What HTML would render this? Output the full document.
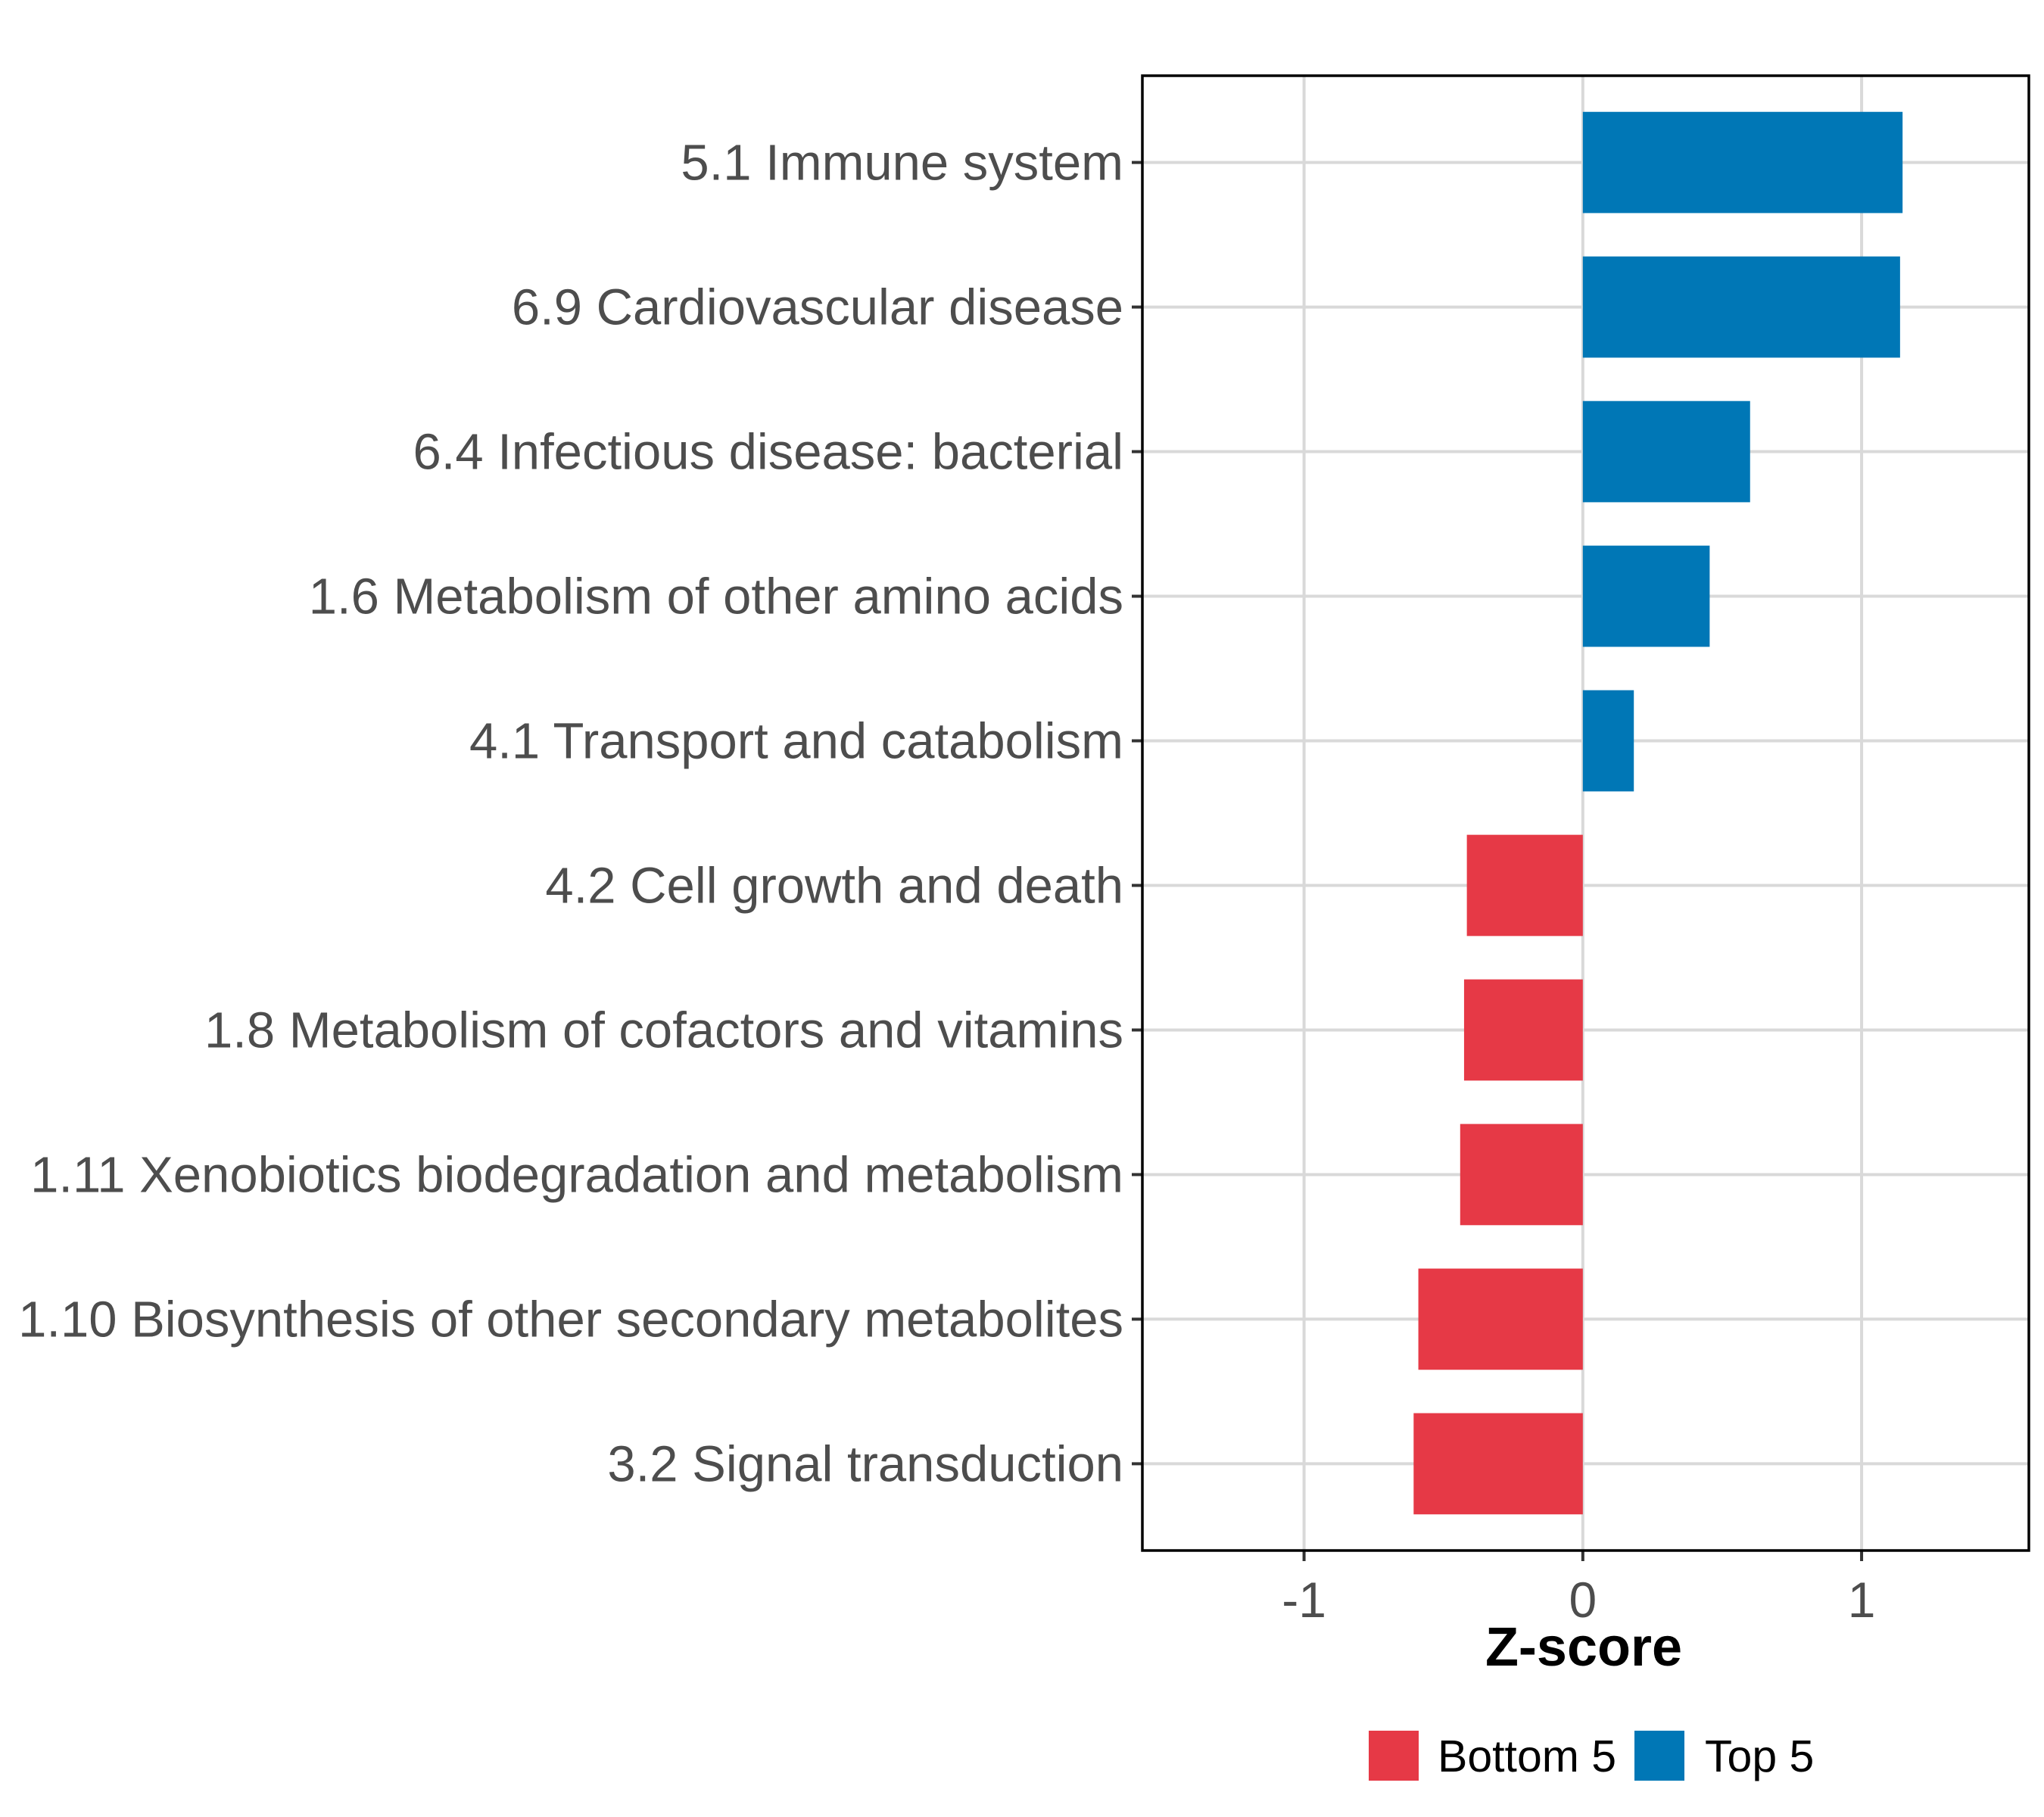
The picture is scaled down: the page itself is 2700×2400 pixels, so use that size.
<!DOCTYPE html>
<html><head><meta charset="utf-8"><style>body{margin:0;background:#fff}svg{display:block}</style></head>
<body>
<svg id="chart" xmlns="http://www.w3.org/2000/svg" width="2700" height="2400" viewBox="0 0 2700 2400" font-family="Liberation Sans, Arial, sans-serif">
<rect width="2700" height="2400" fill="#fff"/>
<g id="grid"></g><g id="bars"></g><g id="axes"></g>
<g>
<rect x="1808" y="2286" width="66" height="66" fill="#E63946"/>
<text x="1899" y="2340" font-size="59" fill="#000">Bottom 5</text>
<rect x="2159" y="2286" width="66" height="66" fill="#0077B6"/>
<text x="2252" y="2340" font-size="59" fill="#000">Top 5</text>
</g>
<text x="2092" y="2200" font-size="72" font-weight="bold" text-anchor="middle" fill="#000">Z-score</text>
</svg>
<script>
const categories = ["5.1 Immune system","6.9 Cardiovascular disease","6.4 Infectious disease: bacterial","1.6 Metabolism of other amino acids","4.1 Transport and catabolism","4.2 Cell growth and death","1.8 Metabolism of cofactors and vitamins","1.11 Xenobiotics biodegradation and metabolism","1.10 Biosynthesis of other secondary metabolites","3.2 Signal transduction"];
const values = [1.147,1.138,0.60,0.455,0.183,-0.416,-0.426,-0.44,-0.59,-0.607];
const groups = ["Top 5","Top 5","Top 5","Top 5","Top 5","Bottom 5","Bottom 5","Bottom 5","Bottom 5","Bottom 5"];
const xTicks = [-1,0,1];
const xTickLabels = ["-1","0","1"];

const NS="http://www.w3.org/2000/svg";
const L=1509,R=2680,T=100,B=2048,xmin=-1.58,xmax=1.60;
const xs=v=>L+(v-xmin)/(xmax-xmin)*(R-L);
const unit=(B-T)/(categories.length-1+1.2);
const ys=i=>T+(0.6+i)*unit;
function mk(tag,attrs,parent,txt){const e=document.createElementNS(NS,tag);for(const k in attrs)e.setAttribute(k,attrs[k]);if(txt!==undefined)e.textContent=txt;parent.appendChild(e);return e;}
const grid=document.getElementById('grid'),bars=document.getElementById('bars'),axes=document.getElementById('axes');
xTicks.forEach((t,i)=>{
  const g=mk('line',{x1:xs(t),x2:xs(t),y1:T,y2:B,stroke:'#d9d9d9','stroke-width':4},grid);
  
  
  const tk=mk('line',{x1:xs(t),x2:xs(t),y1:B,y2:B+14,stroke:'#333','stroke-width':4},axes);
  
  
  const lb=mk('text',{x:xs(t),y:B+88,'font-size':66,'text-anchor':'middle',fill:'#4d4d4d'},axes,xTickLabels[i]);
  
  
});
categories.forEach((c,i)=>{
  const y=ys(i);
  const g=mk('line',{x1:L,x2:R,y1:y,y2:y,stroke:'#d9d9d9','stroke-width':4},grid);
  
  
  const v=values[i],x0=xs(0),x1=xs(v),bw=unit*0.7;
  const r=mk('rect',{x:Math.min(x0,x1),y:y-bw/2,width:Math.abs(x1-x0),height:bw,fill:groups[i]==='Top 5'?'#0077B6':'#E63946'},bars);
  
  
  const tk=mk('line',{x1:L-14,x2:L,y1:y,y2:y,stroke:'#333','stroke-width':4},axes);
  
  
  const lb=mk('text',{x:L-25,y:y+23,'font-size':67,'text-anchor':'end',fill:'#4d4d4d'},axes,c);
  
  
});
const fr=mk('rect',{x:L,y:T,width:R-L,height:B-T,fill:'none',stroke:'#000','stroke-width':3.5},axes);


</script>
</body></html>
